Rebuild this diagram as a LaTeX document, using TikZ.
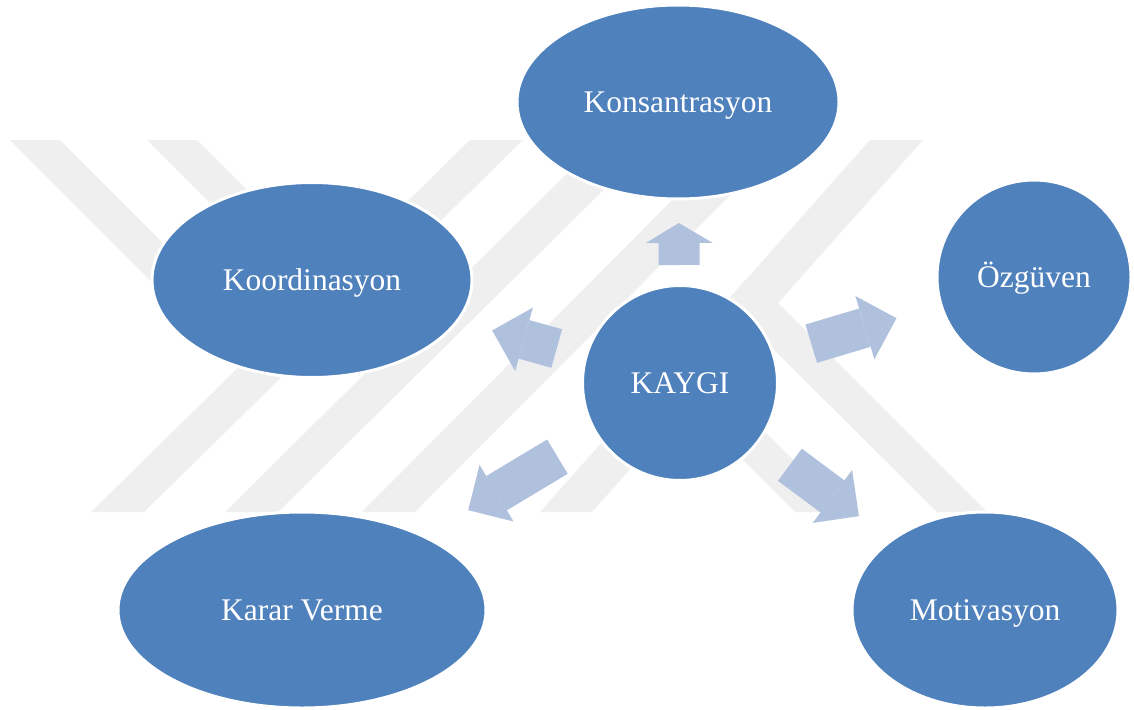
\documentclass[tikz,border=0pt]{standalone}
\usepackage{fontspec}
\setmainfont{Liberation Serif}
\usetikzlibrary{shapes.geometric,arrows.meta,calc}
\definecolor{nodeblue}{RGB}{79,129,189}
\definecolor{arrowblue}{RGB}{176,193,222}
\definecolor{wm}{RGB}{239,239,239}
\begin{document}
\begin{tikzpicture}[x=1pt,y=-1pt,
  bub/.style={fill=nodeblue, draw=white, line width=3pt, inner sep=0pt, text=white,
    text height=24pt, text depth=4pt, font=\fontsize{31.5}{37}\selectfont},
  ell/.style={bub, ellipse},
  circ/.style={bub, circle},
  wmark/.style={fill=wm},
  barrow/.style={draw=arrowblue, line width=40pt, line cap=butt},
  bigtip/.style={barrow, -{Triangle[width=66pt,length=33pt,line width=0pt]}},
  smalltip/.style={barrow, line width=41pt, -{Triangle[width=67pt,length=20pt,line width=0pt]}}
]
\useasboundingbox (0,0) rectangle (1134,709);
\fill[white] (0,0) rectangle (1134,709);
% watermark stripes
\fill[wmark] (10,140) -- (60,140) -- (240,320) -- (190,320) -- cycle;
\fill[wmark] (147,140) -- (197,140) -- (377,320) -- (327,320) -- cycle;
\fill[wmark] (470,140) -- (523,140) -- (144,512) -- (91,512) -- cycle;
\fill[wmark] (601,140) -- (654,140) -- (278,512) -- (225,512) -- cycle;
\fill[wmark] (732,140) -- (785,140) -- (415,512) -- (362,512) -- cycle;
\fill[wmark] (870,140) -- (923,140) -- (592,512) -- (540,512) -- cycle;
\fill[wmark] (726,302) -- (750,275) -- (987,512) -- (937,512) -- cycle;
\fill[wmark] (683,400) -- (733,400) -- (845,512) -- (795,512) -- cycle;
% nodes
\node[ell, minimum width=322pt, minimum height=194pt] (kon) at (678,102) {Konsantrasyon};
\node[ell, minimum width=320pt, minimum height=195pt] (koor) at (312,280) {Koordinasyon};
\node[circ, minimum size=194pt] (oz) at (1034,277) {Özgüven};
\node[circ, minimum size=195pt] (kaygi) at (680,383) {KAYGI};
\node[ell, minimum width=368pt, minimum height=196pt] (karar) at (302,610) {Karar Verme};
\node[ell, minimum width=266pt, minimum height=196pt] (moti) at (985,610) {Motivasyon};
% block arrows
\draw[smalltip] ($(kaygi.center)!118pt!(kon.center)$) -- ($(kaygi.center)!160pt!(kon.center)$);
\draw[bigtip] ($(kaygi.center)!128pt!(koor.center)$) -- ($(kaygi.center)!195pt!(koor.center)$);
\draw[bigtip] ($(kaygi.center)!137pt!(oz.center)$) -- ($(kaygi.center)!226pt!(oz.center)$);
\draw[bigtip] ($(kaygi.center)!143pt!(karar.center)$) -- ($(kaygi.center)!247pt!(karar.center)$);
\draw[bigtip] ($(kaygi.center)!137pt!(moti.center)$) -- ($(kaygi.center)!223pt!(moti.center)$);
\end{tikzpicture}
\end{document}
